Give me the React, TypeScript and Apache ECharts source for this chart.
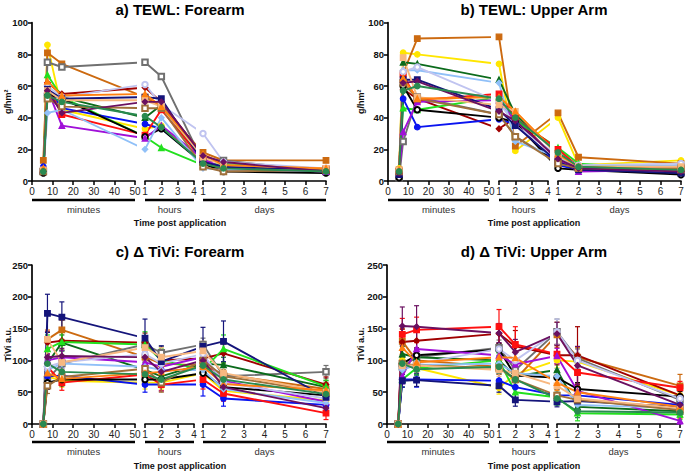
import React, { useEffect, useRef } from 'react';
import * as echarts from 'echarts';

// ---------- subjects ----------
const SUBJECT_COLORS = [
  '#FFE600', '#CC6A10', '#707070', '#A00000', '#0B6B1B', '#22E01E',
  '#0A14F0', '#FF1010', '#000000', '#A010D8', '#90C0F8', '#C0C4F0',
  '#14147A', '#A0703A', '#F8B880', '#FF8010', '#6A1060', '#2A8A50',
];
const SUBJECT_SYMBOLS = [
  'circle', 'rect', 'emptyRect', 'diamond', 'triangle', 'triangle',
  'circle', 'rect', 'emptyCircle', 'triangle', 'diamond', 'emptyCircle',
  'rect', 'emptyRect', 'rect', 'triangle', 'diamond', 'circle',
];

// ---------- time points ----------
const MINUTE_TIMES = [5.5, 7.5, 14.5];
const HOUR_TIMES = [1, 2];
const DAY_TIMES = [1, 2, 7];

// axis segments (min, max, tick interval, caption)
const SEGMENT_LABELS = ['minutes', 'hours', 'days'];
const SEGMENT_MIN = [0, 1, 1];
const SEGMENT_MAX = [50, 4, 7];
const SEGMENT_INTERVAL = [10, 1, 1];

// ---------- data: rows = subjects, cols = [5.5m, 7.5m, 14.5m, 1h, 2h, 1d, 2d, 7d] ----------
const TEWL_FOREARM = [
  [8, 86, 45, 33, 35, 11, 7, 7],
  [13, 81, 74, 53, 47, 18, 13, 13],
  [6, 75, 72, 75, 66, 12, 13, 6],
  [7, 62, 55, 59, 50, 16, 11, 7],
  [6, 56, 53, 40, 48, 12, 9, 7],
  [7, 67, 53, 28, 21, 10, 11, 7],
  [9, 59, 46, 36, 33, 12, 9, 8],
  [6, 60, 42, 29, 45, 13, 7, 8],
  [5, 55, 52, 28, 33, 11, 6, 5],
  [7, 58, 35, 27, 35, 14, 8, 6],
  [6, 43, 45, 20, 40, 8, 7, 7],
  [7, 60, 53, 61, 48, 30, 12, 8],
  [6, 58, 52, 53, 52, 12, 9, 7],
  [6, 52, 47, 46, 46, 9, 6, 7],
  [7, 57, 51, 51, 47, 15, 10, 8],
  [8, 63, 54, 55, 47, 17, 10, 8],
  [6, 57, 43, 50, 50, 16, 12, 6],
  [6, 54, 50, 41, 34, 11, 8, 6],
];
const TEWL_UPPER = [
  [8, 81, 80, 74, 19, 40, 10, 13],
  [7, 68, 90, 91, 22, 43, 15, 11],
  [2, 25, 53, 42, 28, 12, 8, 9],
  [6, 58, 52, 33, 40, 13, 8, 8],
  [5, 75, 74, 64, 42, 17, 10, 8],
  [6, 46, 45, 53, 38, 21, 11, 7],
  [4, 52, 34, 39, 36, 10, 7, 5],
  [6, 67, 51, 55, 40, 20, 9, 8],
  [2, 60, 45, 40, 37, 8, 7, 4],
  [5, 31, 50, 51, 38, 14, 6, 7],
  [5, 70, 70, 62, 25, 15, 9, 10],
  [6, 69, 72, 50, 35, 16, 10, 11],
  [4, 64, 64, 45, 35, 12, 7, 5],
  [6, 62, 52, 42, 28, 11, 8, 8],
  [7, 78, 53, 48, 44, 16, 9, 9],
  [7, 65, 52, 53, 44, 17, 9, 7],
  [5, 62, 63, 44, 38, 14, 8, 6],
  [6, 57, 60, 52, 40, 18, 9, 7],
];
const TIVI_FOREARM = [
  [0, 75, 68, 65, 65, 80, 52, 37],
  [0, 133, 148, 105, 95, 92, 78, 55],
  [0, 70, 95, 125, 112, 125, 75, 82],
  [0, 128, 131, 128, 100, 103, 111, 62],
  [0, 95, 128, 85, 75, 95, 93, 58],
  [0, 118, 129, 125, 100, 85, 118, 59],
  [0, 75, 76, 62, 62, 62, 40, 30],
  [0, 90, 65, 78, 62, 70, 48, 17],
  [0, 65, 70, 70, 70, 80, 58, 45],
  [0, 100, 105, 97, 90, 105, 68, 35],
  [0, 85, 95, 90, 85, 85, 55, 33],
  [0, 90, 97, 110, 95, 110, 65, 40],
  [0, 174, 168, 135, 98, 122, 130, 42],
  [0, 60, 74, 87, 65, 100, 75, 50],
  [0, 133, 97, 120, 105, 115, 80, 50],
  [0, 80, 71, 80, 82, 90, 63, 53],
  [0, 105, 107, 105, 82, 100, 58, 25],
  [0, 95, 82, 78, 70, 92, 70, 47],
];
const TIVI_FOREARM_ERR = [
  [0, 12, 10, 10, 10, 12, 10, 8],
  [0, 15, 15, 12, 12, 15, 12, 10],
  [0, 10, 12, 12, 10, 10, 10, 10],
  [0, 18, 15, 15, 12, 15, 15, 12],
  [0, 15, 12, 12, 10, 12, 12, 10],
  [0, 22, 15, 20, 18, 15, 22, 10],
  [0, 20, 12, 12, 10, 18, 12, 8],
  [0, 20, 12, 12, 10, 15, 12, 10],
  [0, 10, 10, 10, 8, 10, 8, 8],
  [0, 10, 10, 10, 8, 12, 10, 8],
  [0, 12, 12, 10, 10, 12, 10, 8],
  [0, 10, 10, 10, 10, 12, 10, 8],
  [0, 30, 24, 30, 25, 30, 32, 12],
  [0, 12, 12, 12, 15, 12, 10, 10],
  [0, 15, 12, 12, 15, 15, 10, 12],
  [0, 10, 10, 10, 10, 12, 10, 10],
  [0, 12, 12, 12, 10, 12, 10, 8],
  [0, 12, 12, 10, 10, 12, 10, 8],
];
const TIVI_UPPER = [
  [0, 100, 88, 57, 78, 100, 98, 45],
  [0, 130, 100, 90, 70, 140, 105, 60],
  [0, 90, 105, 120, 85, 145, 103, 38],
  [0, 129, 131, 142, 122, 108, 108, 45],
  [0, 110, 105, 100, 75, 85, 27, 20],
  [0, 70, 88, 100, 50, 42, 17, 15],
  [0, 70, 70, 68, 58, 45, 45, 30],
  [0, 141, 148, 153, 125, 110, 81, 57],
  [0, 95, 108, 117, 76, 73, 55, 43],
  [0, 75, 118, 108, 94, 107, 52, 5],
  [0, 85, 93, 95, 80, 75, 30, 25],
  [0, 90, 95, 118, 100, 145, 100, 40],
  [0, 68, 69, 60, 38, 35, 36, 27],
  [0, 95, 92, 88, 70, 45, 38, 22],
  [0, 92, 92, 85, 80, 60, 40, 25],
  [0, 120, 97, 105, 104, 65, 50, 27],
  [0, 154, 153, 143, 113, 142, 92, 30],
  [0, 95, 86, 90, 70, 40, 20, 18],
];
const TIVI_UPPER_ERR = [
  [0, 10, 10, 10, 10, 12, 10, 8],
  [0, 20, 15, 12, 12, 20, 15, 18],
  [0, 12, 12, 12, 12, 20, 15, 10],
  [0, 20, 20, 15, 25, 15, 45, 10],
  [0, 12, 12, 12, 10, 40, 12, 8],
  [0, 12, 10, 12, 10, 12, 12, 8],
  [0, 12, 12, 12, 10, 10, 10, 8],
  [0, 25, 20, 27, 28, 15, 20, 10],
  [0, 10, 10, 10, 10, 10, 10, 8],
  [0, 12, 12, 12, 10, 12, 10, 6],
  [0, 10, 10, 10, 10, 12, 10, 8],
  [0, 10, 10, 10, 10, 20, 12, 8],
  [0, 10, 10, 10, 10, 8, 8, 8],
  [0, 10, 10, 10, 10, 10, 10, 8],
  [0, 10, 10, 10, 10, 10, 10, 8],
  [0, 15, 12, 12, 10, 12, 10, 18],
  [0, 30, 33, 15, 20, 18, 30, 10],
  [0, 10, 10, 10, 10, 10, 10, 8],
];

// ---------- layout (pixels) ----------
const FONT = 'Liberation Sans, Arial, Helvetica, sans-serif';
const PANELS = [
  {
    title: 'a) TEWL: Forearm', yName: 'g/hm²', yMax: 100, yInterval: 20,
    values: TEWL_FOREARM, errors: null as number[][] | null,
    titleX: 180, titleY: 9, top: 22.7, bottom: 181, yNameX: 8,
    spans: [[32, 135], [145, 194], [203, 326]], bracketY: 200, labelY: 209.5, footY: 223,
  },
  {
    title: 'b) TEWL: Upper Arm', yName: 'g/hm²', yMax: 100, yInterval: 20,
    values: TEWL_UPPER, errors: null as number[][] | null,
    titleX: 534, titleY: 9, top: 22.7, bottom: 181, yNameX: 361,
    spans: [[388, 489], [499, 548], [558, 681]], bracketY: 200, labelY: 209.5, footY: 223,
  },
  {
    title: 'c) Δ TiVi: Forearm', yName: 'TiVi a.u.', yMax: 250, yInterval: 50,
    values: TIVI_FOREARM, errors: TIVI_FOREARM_ERR,
    titleX: 180, titleY: 251, top: 265, bottom: 424, yNameX: 8,
    spans: [[32, 135], [145, 194], [203, 326]], bracketY: 442, labelY: 451.5, footY: 466,
  },
  {
    title: 'd) Δ TiVi: Upper Arm', yName: 'TiVi a.u.', yMax: 250, yInterval: 50,
    values: TIVI_UPPER, errors: TIVI_UPPER_ERR,
    titleX: 534, titleY: 251, top: 265, bottom: 424, yNameX: 361,
    spans: [[387, 489], [499, 548], [557, 680]], bracketY: 442, labelY: 451.5, footY: 466,
  },
];

const POINTS = [
  ...MINUTE_TIMES.map((t) => ({ seg: 0, t })),
  ...HOUR_TIMES.map((t) => ({ seg: 1, t })),
  ...DAY_TIMES.map((t) => ({ seg: 2, t })),
];

// screen x of a value on a given segment, then converted into another segment's units
function toScreen(spans: number[][], seg: number, t: number) {
  const [a, b] = spans[seg];
  return a + ((t - SEGMENT_MIN[seg]) / (SEGMENT_MAX[seg] - SEGMENT_MIN[seg])) * (b - a);
}
function toSegUnits(spans: number[][], seg: number, t: number, target: number) {
  const X = toScreen(spans, seg, t);
  const [a, b] = spans[target];
  return SEGMENT_MIN[target] + ((X - a) / (b - a)) * (SEGMENT_MAX[target] - SEGMENT_MIN[target]);
}

function buildOption() {
  const grid: any[] = [];
  const xAxis: any[] = [];
  const yAxis: any[] = [];
  const series: any[] = [];
  const graphic: any[] = [];

  PANELS.forEach((p, pi) => {
    for (let g = 0; g < 3; g++) {
      const gi = pi * 3 + g;
      const [a, b] = p.spans[g];
      grid.push({ left: a, top: p.top, width: b - a, height: p.bottom - p.top, outerBoundsMode: 'none', containLabel: false });
      xAxis.push({
        type: 'value', gridIndex: gi, min: SEGMENT_MIN[g], max: SEGMENT_MAX[g], interval: SEGMENT_INTERVAL[g],
        axisLine: { show: true, onZero: false, lineStyle: { color: '#000', width: 1.7 } },
        axisTick: { show: true, length: 4, lineStyle: { color: '#000', width: 1.5 } },
        axisLabel: { show: true, margin: 5, fontSize: 10, color: '#222', fontFamily: FONT, showMinLabel: true, showMaxLabel: true },
        splitLine: { show: false },
      });
      yAxis.push({
        type: 'value', gridIndex: gi, min: 0, max: p.yMax, interval: p.yInterval, show: g === 0,
        axisLine: { show: g === 0, lineStyle: { color: '#000', width: 1.7 } },
        axisTick: { show: g === 0, length: 4, lineStyle: { color: '#000', width: 1.5 } },
        axisLabel: { show: g === 0, margin: 4, fontSize: 9.5, fontWeight: 'bold', color: '#111', fontFamily: FONT },
        splitLine: { show: false },
      });

      // error bars for points on this segment
      if (p.errors) {
        const errData: number[][] = [];
        p.values.forEach((row, s) => {
          POINTS.forEach((pt, i) => {
            const e = p.errors![s][i];
            if (pt.seg === g && e > 0) errData.push([pt.t, row[i], e, s]);
          });
        });
        series.push({
          type: 'custom', xAxisIndex: gi, yAxisIndex: gi, silent: true, z: 1,
          encode: { x: 0, y: 1 },
          data: errData,
          renderItem: (_params: any, api: any) => {
            const x = api.value(0), y = api.value(1), e = api.value(2), s = api.value(3);
            const top = api.coord([x, y + e]);
            const bot = api.coord([x, Math.max(0, y - e)]);
            const color = SUBJECT_COLORS[s];
            const w = 2.5;
            const st = { stroke: color, lineWidth: 1.2 };
            return {
              type: 'group',
              children: [
                { type: 'line', shape: { x1: top[0], y1: top[1], x2: bot[0], y2: bot[1] }, style: st },
                { type: 'line', shape: { x1: top[0] - w, y1: top[1], x2: top[0] + w, y2: top[1] }, style: st },
                { type: 'line', shape: { x1: bot[0] - w, y1: bot[1], x2: bot[0] + w, y2: bot[1] }, style: st },
              ],
            };
          },
        });
      }

      p.values.forEach((row, s) => {
        const data = POINTS.map((pt, i) => [toSegUnits(p.spans, pt.seg, pt.t, g), row[i]]);
        series.push({
          type: 'line', xAxisIndex: gi, yAxisIndex: gi, clip: true, silent: true, z: 2,
          data,
          symbol: SUBJECT_SYMBOLS[s], symbolSize: 5.5, showSymbol: true,
          lineStyle: { color: SUBJECT_COLORS[s], width: 1.9 },
          itemStyle: { color: SUBJECT_COLORS[s], borderColor: SUBJECT_COLORS[s], borderWidth: 1.3 },
        });
      });

      // bracket under segment + caption
      graphic.push({
        type: 'line', silent: true,
        shape: { x1: a, y1: p.bracketY, x2: b, y2: p.bracketY },
        style: { stroke: '#000', lineWidth: 2.4 },
      });
      graphic.push({
        type: 'text', silent: true, x: (a + b) / 2, y: p.labelY,
        style: { text: SEGMENT_LABELS[g], fontSize: 9.5, fontFamily: FONT, fill: '#333', align: 'center', verticalAlign: 'middle' },
      });
    }

    graphic.push({
      type: 'text', silent: true, x: p.titleX, y: p.titleY,
      style: { text: p.title, fontSize: 15, fontWeight: 'bold', fontFamily: FONT, fill: '#000', align: 'center', verticalAlign: 'middle' },
    });
    graphic.push({
      type: 'text', silent: true, x: p.titleX, y: p.footY,
      style: { text: 'Time post application', fontSize: 9, fontWeight: 'bold', fontFamily: FONT, fill: '#111', align: 'center', verticalAlign: 'middle' },
    });
    graphic.push({
      type: 'text', silent: true, x: p.yNameX, y: (p.top + p.bottom) / 2, rotation: Math.PI / 2,
      style: { text: p.yName, fontSize: 9, fontWeight: 'bold', fontFamily: FONT, fill: '#111', align: 'center', verticalAlign: 'middle' },
    });
  });

  return {
    animation: false,
    backgroundColor: '#fff',
    textStyle: { fontFamily: FONT },
    grid, xAxis, yAxis, series, graphic,
  };
}

export default function App() {
  const ref = useRef<HTMLDivElement>(null);
  useEffect(() => {
    if (!ref.current) return;
    const chart = echarts.init(ref.current, null, { renderer: 'svg' });
    chart.setOption(buildOption() as any);
    return () => chart.dispose();
  }, []);
  return (
    <div
      ref={ref}
      style={{ position: 'fixed', left: 0, top: 0, width: 685, height: 473, background: '#fff' }}
    />
  );
}
